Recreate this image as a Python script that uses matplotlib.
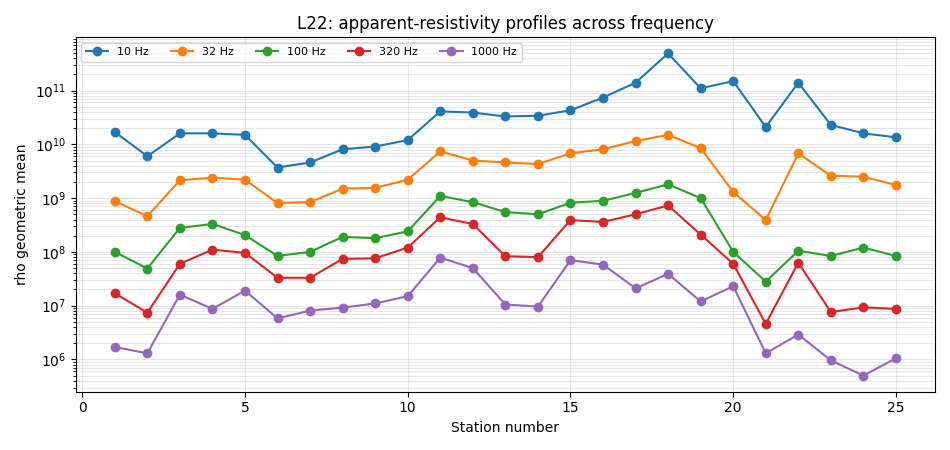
import numpy as np
import matplotlib
matplotlib.use("Agg")
import matplotlib.pyplot as plt

stations = np.arange(1, 26)

rho_10hz = [1.7e10, 6.0e9, 1.6e10, 1.6e10, 1.5e10, 3.7e9, 4.6e9, 8.1e9, 9.1e9, 1.2e10,
            4.1e10, 3.9e10, 3.3e10, 3.4e10, 4.3e10, 7.4e10, 1.4e11, 4.9e11, 1.1e11, 1.5e11,
            2.1e10, 1.4e11, 2.3e10, 1.6e10, 1.35e10]
rho_32hz = [8.8e8, 4.6e8, 2.15e9, 2.4e9, 2.2e9, 8.1e8, 8.4e8, 1.5e9, 1.55e9, 2.2e9,
            7.4e9, 5.0e9, 4.6e9, 4.3e9, 6.8e9, 8.1e9, 1.15e10, 1.5e10, 8.5e9, 1.3e9,
            3.9e8, 6.8e9, 2.6e9, 2.5e9, 1.75e9]
rho_100hz = [1.0e8, 4.9e7, 2.8e8, 3.3e8, 2.05e8, 8.4e7, 1.0e8, 1.9e8, 1.8e8, 2.4e8,
             1.1e9, 8.4e8, 5.5e8, 5.0e8, 8.2e8, 8.9e8, 1.25e9, 1.8e9, 1.0e9, 1.0e8,
             2.8e7, 1.05e8, 8.4e7, 1.2e8, 8.4e7]
rho_320hz = [1.7e7, 7.4e6, 6.0e7, 1.1e8, 9.6e7, 3.3e7, 3.3e7, 7.4e7, 7.6e7, 1.2e8,
             4.4e8, 3.3e8, 8.3e7, 8.0e7, 3.9e8, 3.6e8, 5.0e8, 7.3e8, 2.1e8, 6.0e7,
             4.6e6, 6.3e7, 7.6e6, 9.3e6, 8.7e6]
rho_1000hz = [1.7e6, 1.3e6, 1.6e7, 8.7e6, 1.9e7, 5.8e6, 8.1e6, 9.2e6, 1.1e7, 1.5e7,
              7.8e7, 5.0e7, 1.05e7, 9.6e6, 7.0e7, 5.8e7, 2.1e7, 3.9e7, 1.2e7, 2.3e7,
              1.3e6, 2.9e6, 9.6e5, 5.0e5, 1.05e6]

series = {
    "10 Hz": rho_10hz,
    "32 Hz": rho_32hz,
    "100 Hz": rho_100hz,
    "320 Hz": rho_320hz,
    "1000 Hz": rho_1000hz,
}

fig, ax = plt.subplots(figsize=(9.5, 4.5), dpi=100)

for label, values in series.items():
    ax.plot(stations, values, marker="o", markersize=6, label=label)

ax.set_yscale("log")
ax.set_title("L22: apparent-resistivity profiles across frequency")
ax.set_xlabel("Station number")
ax.set_ylabel("rho geometric mean")
ax.grid(True, which="both", alpha=0.3)
ax.legend(ncol=5, fontsize=8, loc="upper left")

fig.tight_layout()
fig.savefig("out.png")
